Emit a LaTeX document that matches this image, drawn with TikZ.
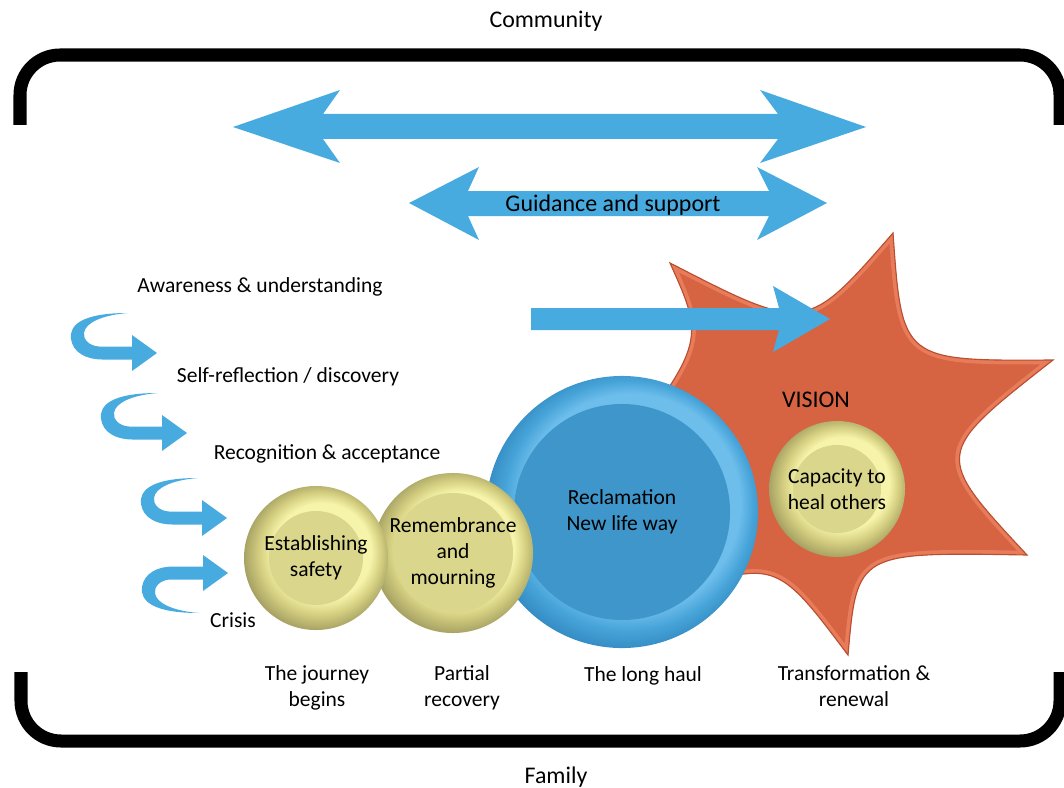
\documentclass[tikz,border=0pt]{standalone}
\usepackage{fontspec}
\setmainfont{Carlito}
\usetikzlibrary{positioning}

\definecolor{arrowblue}{RGB}{72,171,224}
\definecolor{starorange}{RGB}{214,99,66}
\definecolor{starrim}{RGB}{232,124,90}
\definecolor{stardark}{RGB}{185,78,48}
\definecolor{ylcore}{RGB}{218,215,140}
\definecolor{ylhigh}{RGB}{246,243,170}
\definecolor{ylmid}{RGB}{214,209,130}
\definecolor{yldark}{RGB}{165,160,98}
\definecolor{blcore}{RGB}{62,150,202}
\definecolor{blhigh}{RGB}{110,190,236}
\definecolor{blmid}{RGB}{70,163,216}
\definecolor{bldark}{RGB}{46,132,188}

\pgfdeclareradialshading{yellowring}{\pgfpoint{5bp}{5bp}}{color(0bp)=(ylhigh); color(17bp)=(ylhigh); color(21bp)=(ylmid); color(26bp)=(yldark); color(30bp)=(yldark)}
\pgfdeclareradialshading{bluering}{\pgfpoint{5bp}{5bp}}{color(0bp)=(blhigh); color(20bp)=(blhigh); color(23bp)=(blmid); color(27bp)=(bldark); color(30bp)=(bldark)}

\newcommand{\diagfont}{\fontsize{15.3}{18.3}\selectfont}
\newcommand{\bigdiagfont}{\fontsize{17}{20}\selectfont}
\newcommand{\visionstar}{(670,263) .. controls (806,333) .. (893,233) .. controls (902,361) .. (1053,360) .. controls (933,454) .. (1027,555) .. controls (857,552) .. (848,655) .. controls (775,558) .. (660,600) .. controls (657,513) .. (600,480) .. controls (706,343) .. (670,263) -- cycle}

\tikzset{
  hook/.pic={
    \fill[arrowblue] (-29,-40) .. controls (-75,-40) and (-88,-28) .. (-86,-14)
      .. controls (-84,0) and (-70,6.5) .. (-55,6.5) -- (-25,6.5) -- (-25,18) -- (0,0)
      -- (-25,-18) -- (-25,-6.5) -- (-58,-6.5) .. controls (-68,-7) and (-74,-14) .. (-73,-20)
      .. controls (-72,-30) and (-55,-38) .. (-29,-40) -- cycle;
  }
}

\begin{document}
\begin{tikzpicture}[
  x=0.025cm, y=-0.025cm,
  txt/.style={align=center, inner sep=0, font=\diagfont},
  bigtxt/.style={align=center, inner sep=0, font=\bigdiagfont},
  bracket/.style={line width=9.25pt, rounded corners=1cm},
  bluearrow/.style={fill=arrowblue},
  yellowball/.style 2 args={
        circle, inner sep=0, minimum size=#1, shading=yellowring,
        path picture={\fill[ylcore] (path picture bounding box.center) circle[radius=#2];},
        txt
  },
  blueball/.style 2 args={
        circle, inner sep=0, minimum size=#1, shading=bluering,
        path picture={\fill[blcore] (path picture bounding box.center) circle[radius=#2];},
        txt
  }
]
    \useasboundingbox (0,0) rectangle (1064,788);

    \draw[bracket] (20,125) -- (20,55) -- (1060,55) -- (1060,125);
    \draw[bracket] (21,672) -- (21,741) -- (1060,741) -- (1060,672);

    \node[bigtxt] (community) at (546,21) {Community};
    \node[bigtxt] (family) at (556,777) {Family};

    \fill[bluearrow] (233,127) -- (340,90) -- (323,114) -- (778,114) -- (760,90) -- (866,127)
      -- (760,163) -- (778,139) -- (323,139) -- (340,163) -- cycle;
    \fill[bluearrow] (409,203) -- (479,167) -- (468,191) -- (769,191) -- (757,167) -- (827,203)
      -- (757,240) -- (769,216) -- (468,216) -- (479,240) -- cycle;
    \node[bigtxt] (guidance) at (613,205) {Guidance and support};

    \fill[starorange] \visionstar;
    \begin{scope}
      \clip \visionstar;
      \draw[starrim, line width=6pt] \visionstar;
    \end{scope}
    \draw[stardark, line width=0.8pt] \visionstar;
    \fill[bluearrow] (531,308) -- (779,308) -- (773,286) -- (830,319) -- (773,352) -- (779,330)
      -- (531,330) -- cycle;

    \node[blueball={6.8cm}{2.7cm}] (reclamation) at (622,512) {Reclamation\\New life way};
    \node[yellowball={4cm}{1.5cm}] (remembrance) at (453,553) {Remembrance\\and\\mourning};
    \node[yellowball={3.6cm}{1.175cm}] (safety) at (316,558) {Establishing\\safety};
    \node[yellowball={3.4cm}{1.1cm}] (capacity) at (837,489) {Capacity to\\heal others};
    \node[bigtxt] (vision) at (816,400) {VISION};

    \pic at (157,353) {hook};
    \pic at (187,433) {hook};
    \pic at (227,518) {hook};
    \pic[yscale=-1] at (228,573) {hook};

    \node[txt] (awareness) at (260,287) {Awareness \& understanding};
    \node[txt] (reflection) at (288,377) {Self-reflection / discovery};
    \node[txt] (recognition) at (327,454) {Recognition \& acceptance};
    \node[txt] (crisis) at (233,620) {Crisis};

    \node[txt] (journey) at (317,688) {The journey\\begins};
    \node[txt] (partial) at (462,688) {Partial\\recovery};
    \node[txt] (haul) at (643,676) {The long haul};
    \node[txt] (transform) at (854,686) {Transformation \&\\renewal};
\end{tikzpicture}
\end{document}
